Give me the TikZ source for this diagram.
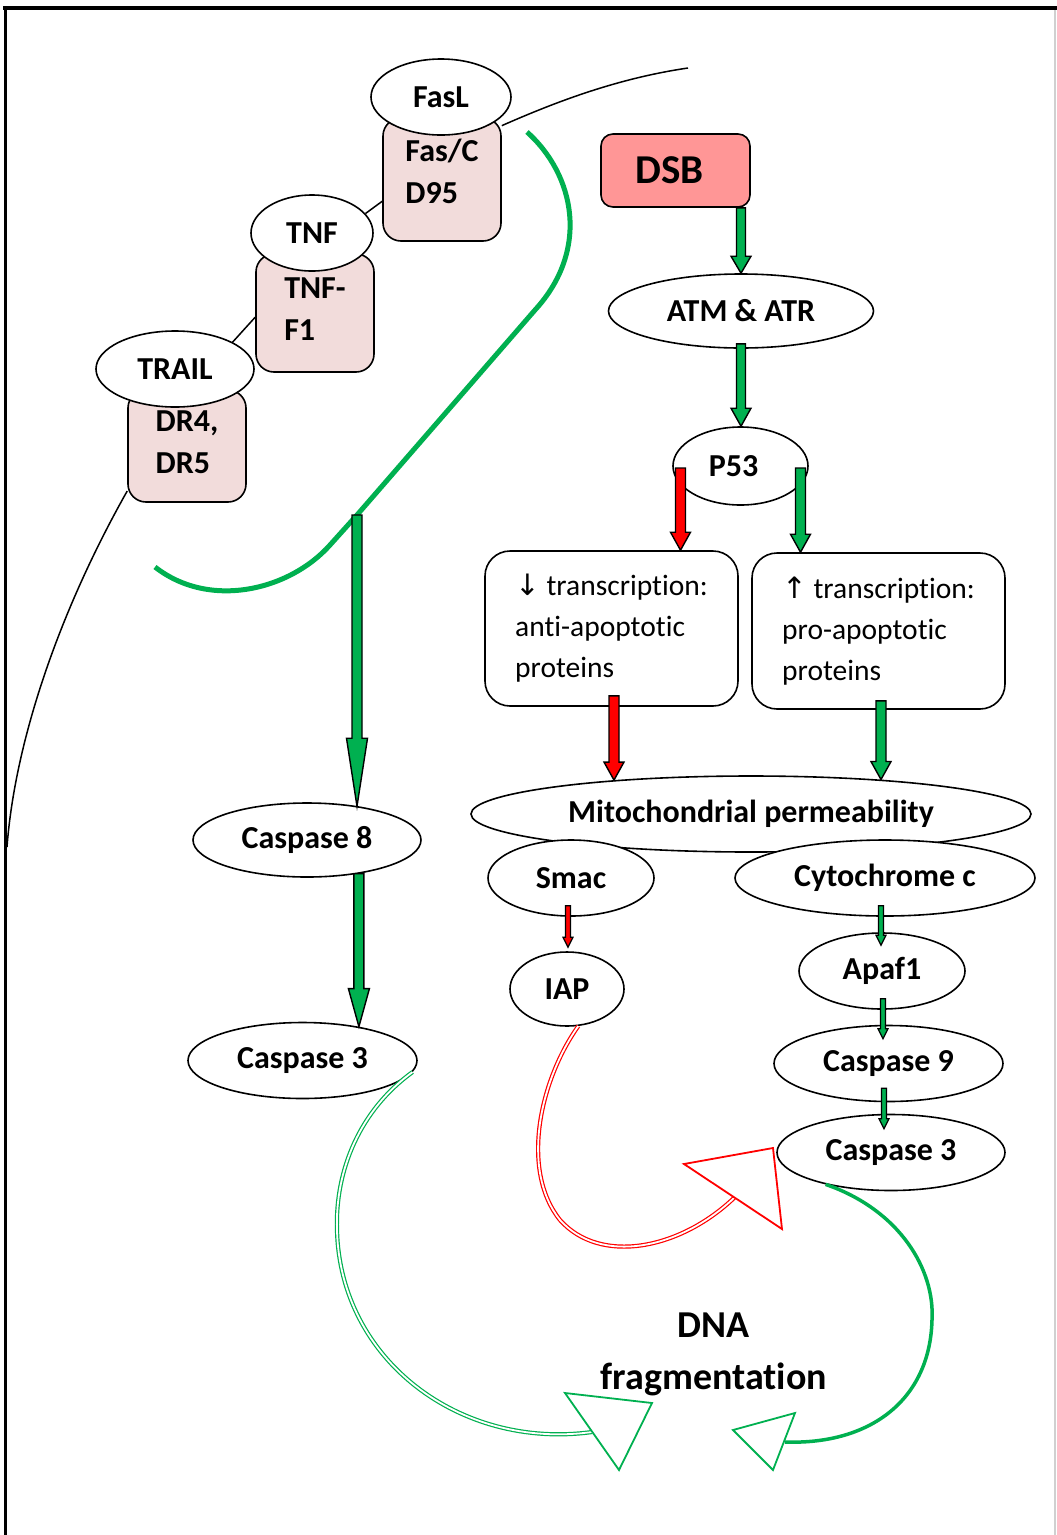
\documentclass[tikz,border=0pt]{standalone}
\usepackage{fontspec}
\setmainfont{Carlito}[Ligatures=NoCommon]
\newfontfamily\arrowfont{DejaVu Sans}
\usetikzlibrary{calc,shapes.geometric}
\definecolor{apgreen}{HTML}{00B050}
\definecolor{apred}{HTML}{FF0000}
\definecolor{appink}{HTML}{F2DCDB}
\definecolor{apsalmon}{HTML}{FF9696}
\definecolor{apgray}{HTML}{D0D0D0}

% block arrow: [line width]{fill}{from}{to (y only)}{half shaft}{half head}{head length}
\newcommand{\fatarrow}[7][1.4pt]{%
  \filldraw[fill=#2, draw=black, line width=#1, line join=miter]
    let \p1=(#3), \p2=(#4) in
    (\x1-#5,\y1) -- (\x1-#5,\y2+#7) -- (\x1-#6,\y2+#7) -- (\x1,\y2)
    -- (\x1+#6,\y2+#7) -- (\x1+#5,\y2+#7) -- (\x1+#5,\y1) -- cycle;}

\begin{document}
\begin{tikzpicture}[x=1pt, y=-1pt, line width=1.6pt,
    every node/.style={font=\bfseries\fontsize{32}{42}\selectfont},
    oval/.style={draw, ellipse, fill=white, inner sep=0pt},
    recbox/.style={draw, rectangle, rounded corners=18pt, fill=appink, align=left, inner sep=0pt},
    tbox/.style={draw, rectangle, rounded corners=25pt, fill=white, align=left, inner sep=0pt,
      font=\fontsize{29.5}{41}\selectfont}]
  \useasboundingbox (0,0) rectangle (1057,1535);
  \fill[white] (0,0) rectangle (1057,1535);
  % frame
  \draw[line width=4pt] (3,8) -- (1057,8);
  \draw[line width=3pt] (5,6) -- (5,1535);
  \draw[apgray, line width=1.5pt] (1055,10) -- (1055,1535);

  % receptors
  \node[recbox, minimum width=118, minimum height=123, text depth=16pt] (fasbox) at (442,179.5) {Fas/C\\D95};
  \node[recbox, minimum width=118, minimum height=118, text depth=8pt] (tnfbox) at (315,313) {TNF-\\F1};
  \node[recbox, minimum width=118, minimum height=112, text depth=8pt] (drbox) at (187,446) {DR4,\\DR5};
  \node[oval, minimum width=140, minimum height=76] (fasl) at (441,97) {FasL};
  \node[oval, minimum width=122, minimum height=76] (tnf) at (312,233) {TNF};
  \node[oval, minimum width=158, minimum height=76] (trail) at (175,369) {TRAIL};
  \draw[line width=1.5pt] (fasbox.200) -- (tnf.20);
  \draw[line width=1.5pt] (tnfbox.184) -- (trail.25);

  % cell membrane
  \draw[line width=1.5pt] (fasbox.42) .. controls (560,100) and (620,78) .. (688,68);
  \draw[line width=1.5pt] (drbox.217) .. controls (60,610) and (15,740) .. (7,847);
  \coordinate (memb) at (357,515);
  \draw[apgreen, line width=5pt] (527,132) .. controls (575,175) and (590,250) .. (535,310)
    -- (memb) -- (330,545) .. controls (290,590) and (210,610) .. (155,567);

  % intrinsic pathway
  \node[draw, rounded corners=12pt, fill=apsalmon, minimum width=149, minimum height=73,
    font=\bfseries\fontsize{41}{48}\selectfont] (dsb) at (675.5,170.5) {DSB\kern12pt};
  \node[oval, minimum width=265, minimum height=74] (atm) at (741,311) {ATM \& ATR};
  \node[oval, minimum width=135, minimum height=78] (p53) at (740.5,466) {P53\kern14pt};
  \node[tbox, minimum width=253, minimum height=155] (antibox) at (611.5,628.5)
    {{\arrowfont ↓} transcription:\\anti-apoptotic\\proteins};
  \node[tbox, minimum width=253, minimum height=156] (probox) at (878.5,631)
    {{\arrowfont ↑} transcription:\\pro-apoptotic\\proteins};
  \node[oval, minimum width=560, minimum height=76] (mito) at (751,814) {Mitochondrial permeability};
  \node[oval, minimum width=166, minimum height=76] (smac) at (571,878) {Smac};
  \node[oval, minimum width=300, minimum height=76] (cyto) at (885,878) {Cytochrome c};
  \node[oval, minimum width=114, minimum height=74] (iap) at (567,989) {IAP};
  \node[oval, minimum width=166, minimum height=76] (apaf) at (882,971) {Apaf1};
  \node[oval, minimum width=229, minimum height=76] (casp9) at (888.5,1063.5) {Caspase 9};
  \node[oval, minimum width=228, minimum height=76] (casp3r) at (891,1152.5) {Caspase 3};

  % extrinsic pathway
  \node[oval, minimum width=228, minimum height=74] (casp8) at (307,840) {Caspase 8};
  \node[oval, minimum width=229, minimum height=76] (casp3l) at (302.5,1060.5) {Caspase 3};
  \node[align=center, font=\bfseries\fontsize{38}{52}\selectfont] (dna) at (714,1354) {DNA\\fragmentation};

  % block arrows
  \fatarrow{apgreen}{dsb.south -| atm.north}{atm.north}{4.5pt}{10pt}{17pt}
  \fatarrow{apgreen}{$(atm.south)+(0,-5)$}{p53.north}{4.5pt}{10pt}{18pt}
  \fatarrow{apred}{$(p53.center)+(-60,2)$}{antibox.north}{5pt}{10pt}{18pt}
  \fatarrow{apgreen}{$(p53.center)+(60,2)$}{probox.north}{5pt}{10pt}{18pt}
  \fatarrow{apred}{$(antibox.south)+(2.5,-11)$}{mito.166}{5pt}{10pt}{18pt}
  \fatarrow{apgreen}{$(probox.south)+(2.5,-9)$}{mito.15}{5pt}{10pt}{18pt}
  \fatarrow{apgreen}{memb}{casp8.33}{5pt}{10.5pt}{68pt}
  \fatarrow{apgreen}{casp8.-33}{casp3l.31}{5pt}{10.5pt}{38pt}
  \fatarrow[1.2pt]{apred}{$(smac.south)+(-3,-11)$}{$(iap.north)+(0,-4)$}{2.5pt}{5pt}{10pt}
  \fatarrow[1.2pt]{apgreen}{$(cyto.south)+(-4,-11)$}{$(apaf.north)+(0,13)$}{2.5pt}{5pt}{10pt}
  \fatarrow[1.2pt]{apgreen}{$(apaf.south)+(1,-11)$}{$(casp9.north)+(0,14)$}{2.5pt}{5pt}{10pt}
  \fatarrow[1.2pt]{apgreen}{$(casp9.south)+(-4.5,-14)$}{$(casp3r.north)+(0,15)$}{2.5pt}{5pt}{10pt}

  % curved arrows to DNA fragmentation
  \coordinate (endl) at (592,1432);
  \coordinate (endiap) at (735,1197);
  \coordinate (endr) at (785,1442);
  \draw[apgreen, line width=1.2pt, double=white, double distance=1.8pt]
    (casp3l.-6) .. controls (360,1110) and (335,1170) .. (337,1230)
    .. controls (340,1360) and (460,1450) .. (endl);
  \draw[apred, line width=1.2pt, double=white, double distance=1.8pt]
    (iap.-73) .. controls (540,1080) and (520,1170) .. (560,1220)
    .. controls (600,1265) and (680,1250) .. (endiap);
  \draw[apgreen, line width=3.5pt]
    (casp3r.-154) .. controls (900,1210) and (935,1270) .. (932,1320)
    .. controls (930,1400) and (870,1445) .. (endr);
  \draw[apgreen, line width=1.8pt, fill=white] (565,1393) -- (652,1403) -- (619,1470) -- cycle;
  \draw[apred, line width=1.8pt, fill=white] (684,1164) -- (773,1148) -- (782,1229) -- cycle;
  \draw[apgreen, line width=1.8pt, fill=white] (733,1430) -- (795,1413) -- (773,1470) -- cycle;
\end{tikzpicture}
\end{document}
